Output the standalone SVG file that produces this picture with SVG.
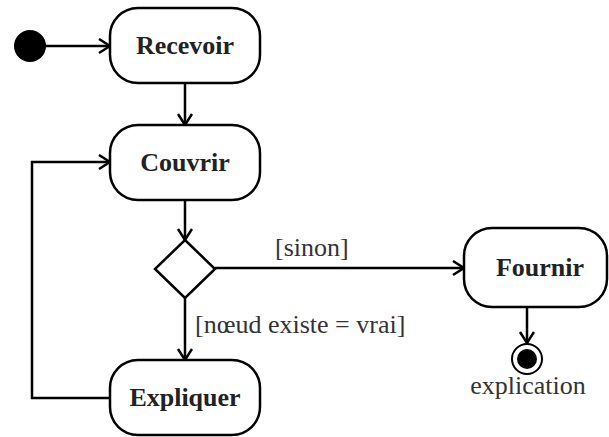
<svg xmlns="http://www.w3.org/2000/svg" width="609" height="437" viewBox="0 0 609 437">
<defs>
<style>
.node{fill:#fff;stroke:#000;stroke-width:2.5}
.name{font-family:"Liberation Serif","Times New Roman",serif;font-weight:bold;font-size:26px;fill:#222;text-anchor:middle}
.lbl{font-family:"Liberation Serif","Times New Roman",serif;font-size:26px;fill:#333}
.edge{fill:none;stroke:#000;stroke-width:2.5;marker-end:url(#arr)}
</style>
<marker id="arr" markerUnits="userSpaceOnUse" markerWidth="16" markerHeight="18" refX="12" refY="8" orient="auto">
<path d="M1,1 L12,8 L1,15" fill="none" stroke="#000" stroke-width="2.5"/>
</marker>
</defs>
<g id="connectors">
<line class="edge" x1="46" y1="46" x2="110" y2="46"/>
<line class="edge" x1="185" y1="83" x2="185" y2="125"/>
<line class="edge" x1="185" y1="200" x2="185" y2="240"/>
<line class="edge" x1="215" y1="268" x2="464" y2="268"/>
<line class="edge" x1="185" y1="298" x2="185" y2="360"/>
<polyline class="edge" points="110,398 32,398 32,162 110,162"/>
<line class="edge" x1="527" y1="307" x2="527" y2="343"/>
<text class="lbl" x="275" y="256">[sinon]</text>
<text class="lbl" x="195" y="333">[nœud existe = vrai]</text>
</g>
<g id="initial"><circle cx="30" cy="46" r="16" fill="#000"/></g>
<g id="recevoir"><rect class="node" x="110" y="8" width="150" height="75" rx="28"/><text class="name" x="185" y="54">Recevoir</text></g>
<g id="couvrir"><rect class="node" x="110" y="125" width="150" height="75" rx="28"/><text class="name" x="185" y="171">Couvrir</text></g>
<g id="decision"><polygon class="node" points="185,240 215,269 185,298 155,269"/></g>
<g id="expliquer"><rect class="node" x="110" y="360" width="150" height="75" rx="28"/><text class="name" x="185" y="406">Expliquer</text></g>
<g id="fournir"><rect class="node" x="464" y="228" width="143" height="79" rx="28"/><text class="name" x="540" y="276">Fournir</text></g>
<g id="final"><circle cx="527" cy="359" r="15" fill="#fff" stroke="#000" stroke-width="2"/><circle cx="527" cy="359" r="10" fill="#000"/><text class="lbl" x="528" y="394" text-anchor="middle">explication</text></g>
</svg>
